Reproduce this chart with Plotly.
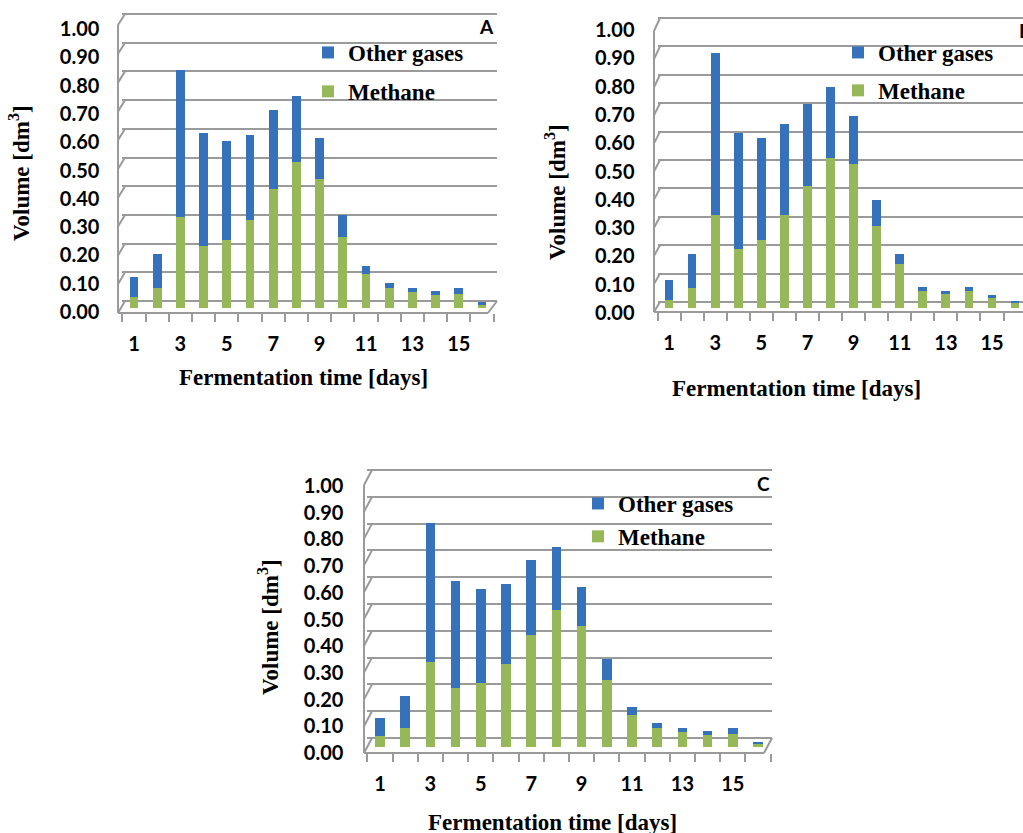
import plotly.graph_objects as go

W, H = 1023, 833

# ---------------- data ----------------
days = list(range(1, 17))

methane_A = [0.04, 0.07, 0.32, 0.22, 0.24, 0.31, 0.42, 0.515, 0.455, 0.25, 0.12, 0.07, 0.055, 0.045, 0.05, 0.01]
other_A   = [0.07, 0.12, 0.52, 0.40, 0.35, 0.30, 0.28, 0.235, 0.145, 0.08, 0.03, 0.02, 0.015, 0.015, 0.02, 0.01]

methane_B = [0.03, 0.07, 0.33, 0.21, 0.24, 0.33, 0.43, 0.53, 0.51, 0.29, 0.155, 0.06, 0.05, 0.06, 0.035, 0.02]
other_B   = [0.07, 0.12, 0.57, 0.41, 0.36, 0.32, 0.29, 0.25, 0.17, 0.09, 0.035, 0.015, 0.01, 0.015, 0.01, 0.005]

methane_C = [0.04, 0.07, 0.32, 0.22, 0.24, 0.31, 0.42, 0.515, 0.455, 0.25, 0.12, 0.07, 0.055, 0.045, 0.05, 0.01]
other_C   = [0.07, 0.12, 0.52, 0.40, 0.35, 0.30, 0.28, 0.235, 0.145, 0.08, 0.03, 0.02, 0.015, 0.015, 0.02, 0.01]

panel_letters = ["A", "B", "C"]
series_names = ["Methane", "Other gases"]
x_title = "Fermentation time [days]"
y_title = "Volume [dm<sup>3</sup>]"

# ---------------- styling ----------------
BLUE = "#3672bb"
GREEN = "#97b858"
GRID = "#9a9a9a"
TICK_FONT = dict(family="Lato", size=20, color="black", weight="bold")
SERIF = dict(family="Liberation Serif", size=23, color="black", weight="bold")

# panel geometry in pixels
geoms = [
    dict(x0=122.4, step=23.2, right=497, top=14, floor=313, base=308, scale=283,
         back0=301, bscale=287, front_x=118, back_x=125, fscale=288, right_front=488,
         lab_right=97, lab_shift=4, leg_text=348, leg_y=48, leg_gap=6,
         xt=(303, 378), yt=(20, 173), letter=(486, 27, "center")),
    dict(x0=657.5, step=23.07, right=1023, top=18, floor=312, base=308, scale=283,
         back0=302, bscale=284, front_x=654, back_x=660, fscale=281, right_front=None,
         lab_right=632, lab_shift=5, leg_text=878, leg_y=48, leg_gap=5,
         xt=(796, 388), yt=(556, 192), letter=(1017, 31, "left")),
    dict(x0=367.4, step=25.2, right=772, top=470, floor=753, base=747, scale=267,
         back0=738, bscale=268, front_x=364, back_x=372, fscale=268, right_front=764,
         lab_right=341, lab_shift=6, leg_text=618, leg_y=499, leg_gap=0,
         xt=(552, 822), yt=(268, 627), letter=(763, 483, "center")),
]
data = [(methane_A, other_A), (methane_B, other_B), (methane_C, other_C)]


def px(x):
    return x / W


def py(y):
    return 1 - y / H


fig = go.Figure()
layout = dict(width=W, height=H, margin=dict(l=0, r=0, t=0, b=0),
              paper_bgcolor="white", plot_bgcolor="rgba(0,0,0,0)",
              barmode="stack", template="none", showlegend=True)
shapes, annotations = [], []

for i, (g, (meth, oth)) in enumerate(zip(geoms, data)):
    xa = "x" if i == 0 else f"x{i + 1}"
    ym = "y" if i == 0 else f"y{2 * i + 1}"
    yg = f"y{2 * i + 2}"
    leg = "legend" if i == 0 else f"legend{i + 1}"

    fig.add_bar(x=days, y=meth, name=series_names[0], marker=dict(color=GREEN, line=dict(width=0)),
                width=0.38, xaxis=xa, yaxis=ym, legend=leg, legendgroup=f"m{i}", legendrank=2)
    fig.add_bar(x=days, y=oth, name=series_names[1], marker=dict(color=BLUE, line=dict(width=0)),
                width=0.38, xaxis=xa, yaxis=ym, legend=leg, legendgroup=f"o{i}", legendrank=1)
    fig.add_scatter(x=[], y=[], xaxis=xa, yaxis=yg, showlegend=False, hoverinfo="skip")

    xkey = "xaxis" if i == 0 else f"xaxis{i + 1}"
    ymkey = "yaxis" if i == 0 else f"yaxis{2 * i + 1}"
    ygkey = f"yaxis{2 * i + 2}"
    top = g["top"] - 2

    layout[xkey] = dict(
        domain=[px(g["x0"]), px(g["right"])], anchor=ym,
        range=[0.5, 0.5 + (g["right"] - g["x0"]) / g["step"]],
        tickmode="linear", tick0=1, dtick=2, ticks="", showline=False,
        showgrid=False, zeroline=False, tickfont=TICK_FONT, ticklabelstandoff=17,
        minor=dict(ticks="outside", ticklen=8, tickwidth=1.5, tickcolor=GRID,
                   tickmode="linear", tick0=0.5, dtick=1, showgrid=False),
    )
    layout[ymkey] = dict(
        domain=[py(g["floor"]), py(top)], anchor=xa,
        range=[(g["base"] - g["floor"]) / g["scale"], (g["base"] - top) / g["scale"]],
        tickmode="linear", tick0=0, dtick=0.1, tickformat=".2f", ticks="",
        showgrid=False, zeroline=False, showline=False, tickfont=TICK_FONT,
        ticklabelstandoff=int(round(g["x0"] - g["lab_right"] - 3)), ticklabelshift=g["lab_shift"],
    )
    layout[ygkey] = dict(
        overlaying=ym, anchor=xa, side="left",
        range=[(g["back0"] - g["floor"]) / g["bscale"], (g["back0"] - top) / g["bscale"]],
        tickmode="linear", tick0=0, dtick=0.1, showgrid=True, gridcolor=GRID,
        gridwidth=2, showticklabels=False, ticks="", zeroline=False, showline=False,
    )

    # 3-D wall / floor decorations
    line = dict(color=GRID, width=2)
    f1 = g["floor"] - g["fscale"]
    shapes.append(dict(type="line", xref="paper", yref="paper", layer="below",
                       x0=px(g["front_x"]), y0=py(g["floor"]), x1=px(g["front_x"]), y1=py(f1), line=line))
    for k in range(11):
        v = k / 10
        shapes.append(dict(type="line", xref="paper", yref="paper", layer="below",
                           x0=px(g["front_x"]), y0=py(g["floor"] - v * g["fscale"]),
                           x1=px(g["back_x"]), y1=py(g["back0"] - v * g["bscale"]), line=line))
    rf = g["right_front"] if g["right_front"] else W
    shapes.append(dict(type="line", xref="paper", yref="paper", layer="below",
                       x0=px(g["front_x"]), y0=py(g["floor"]), x1=px(rf), y1=py(g["floor"]), line=line))
    if g["right_front"]:
        shapes.append(dict(type="line", xref="paper", yref="paper", layer="below",
                           x0=px(rf), y0=py(g["floor"]), x1=px(g["right"]), y1=py(g["back0"]), line=line))

    # titles
    annotations.append(dict(text=x_title, xref="paper", yref="paper", x=px(g["xt"][0]), y=py(g["xt"][1]),
                            xanchor="center", yanchor="middle", showarrow=False, font=SERIF))
    annotations.append(dict(text=y_title, xref="paper", yref="paper", x=px(g["yt"][0]), y=py(g["yt"][1]),
                            xanchor="center", yanchor="middle", showarrow=False, font=SERIF, textangle=-90))
    lx, ly, lanchor = g["letter"]
    annotations.append(dict(text=panel_letters[i], xref="paper", yref="paper", x=px(lx), y=py(ly),
                            xanchor=lanchor, yanchor="middle", showarrow=False,
                            font=dict(family="Lato", size=19, color="black", weight="bold")))

    layout[leg] = dict(x=px(g["leg_text"] - 40), y=py(g["leg_y"] - 17), xanchor="left", yanchor="top",
                       bgcolor="rgba(0,0,0,0)", font=SERIF, traceorder="grouped",
                       tracegroupgap=g["leg_gap"])

layout["shapes"] = shapes
layout["annotations"] = annotations
fig.update_layout(**layout)
fig.write_html("out.html", config={"displayModeBar": False},
               post_script="document.body.style.margin='0';document.body.style.overflow='hidden';")
